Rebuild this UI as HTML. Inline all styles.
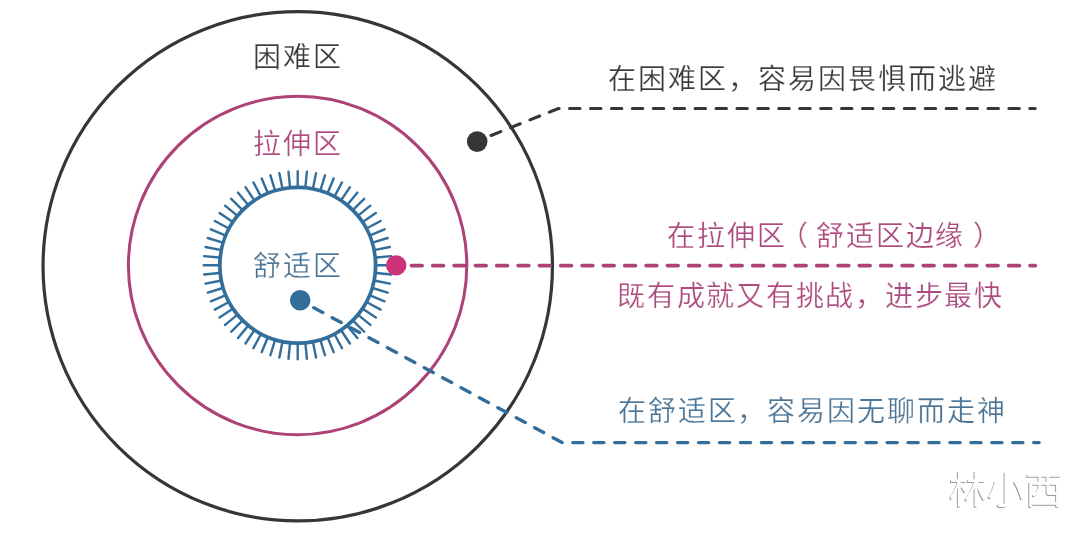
<!DOCTYPE html>
<html lang="zh-CN">
<head>
<meta charset="utf-8">
<style>
html,body{margin:0;padding:0;background:#fff;}
#c{position:absolute;left:0;top:0;width:1080px;height:534px;filter:blur(0.4px);}
body{width:1080px;height:534px;position:relative;overflow:hidden;font-family:"Liberation Sans",sans-serif;}
svg{position:absolute;left:0;top:0;}
.t i,.wm i{display:inline-block;font-style:normal;}
.t b{position:relative;font-weight:normal;}
.t{position:absolute;white-space:nowrap;font-size:28px;line-height:28px;-webkit-text-stroke:0.25px #fff;}
.dk{color:#3a3a3a;}
.pk{color:#ad4a7e;}
.bl{color:#4a7596;}
.wm{position:absolute;white-space:nowrap;font-size:38px;line-height:38px;color:#fff;text-shadow:-1px 1px 0 #9c9c9c;}
</style>
</head>
<body>
<div id="c">
<svg width="1080" height="534" viewBox="0 0 1080 534">
  <circle cx="297.75" cy="266.25" r="254.7" fill="none" stroke="#363636" stroke-width="3.2"/>
  <circle cx="297.6" cy="265.5" r="169.2" fill="none" stroke="#ad4276" stroke-width="3"/>
  <circle cx="297.7" cy="265.3" r="77.9" fill="none" stroke="#336e9b" stroke-width="3.8"/>
  <path d="M297.70 186.30L297.70 171.30M305.44 186.68L306.91 171.75M313.11 187.82L316.04 173.11M320.63 189.70L324.99 175.35M327.93 192.31L333.67 178.46M334.94 195.63L342.01 182.40M341.59 199.61L349.92 187.14M347.82 204.23L357.33 192.64M353.56 209.44L364.17 198.83M358.77 215.18L370.36 205.67M363.39 221.41L375.86 213.08M367.37 228.06L380.60 220.99M370.69 235.07L384.54 229.33M373.30 242.37L387.65 238.01M375.18 249.89L389.89 246.96M376.32 257.56L391.25 256.09M376.70 265.30L391.70 265.30M376.32 273.04L391.25 274.51M375.18 280.71L389.89 283.64M373.30 288.23L387.65 292.59M370.69 295.53L384.54 301.27M367.37 302.54L380.60 309.61M363.39 309.19L375.86 317.52M358.77 315.42L370.36 324.93M353.56 321.16L364.17 331.77M347.82 326.37L357.33 337.96M341.59 330.99L349.92 343.46M334.94 334.97L342.01 348.20M327.93 338.29L333.67 352.14M320.63 340.90L324.99 355.25M313.11 342.78L316.04 357.49M305.44 343.92L306.91 358.85M297.70 344.30L297.70 359.30M289.96 343.92L288.49 358.85M282.29 342.78L279.36 357.49M274.77 340.90L270.41 355.25M267.47 338.29L261.73 352.14M260.46 334.97L253.39 348.20M253.81 330.99L245.48 343.46M247.58 326.37L238.07 337.96M241.84 321.16L231.23 331.77M236.63 315.42L225.04 324.93M232.01 309.19L219.54 317.52M228.03 302.54L214.80 309.61M224.71 295.53L210.86 301.27M222.10 288.23L207.75 292.59M220.22 280.71L205.51 283.64M219.08 273.04L204.15 274.51M218.70 265.30L203.70 265.30M219.08 257.56L204.15 256.09M220.22 249.89L205.51 246.96M222.10 242.37L207.75 238.01M224.71 235.07L210.86 229.33M228.03 228.06L214.80 220.99M232.01 221.41L219.54 213.08M236.63 215.18L225.04 205.67M241.84 209.44L231.23 198.83M247.58 204.23L238.07 192.64M253.81 199.61L245.48 187.14M260.46 195.63L253.39 182.40M267.47 192.31L261.73 178.46M274.77 189.70L270.41 175.35M282.29 187.82L279.36 173.11M289.96 186.68L288.49 171.75" stroke="#336e9b" stroke-width="2.4" stroke-linecap="round" fill="none"/>
  <path d="M477.2 141.0L558.5 108.5L1035.2 108.5" fill="none" stroke="#363636" stroke-width="3.1" stroke-linecap="round" stroke-linejoin="round" stroke-dasharray="10.4 10.52" stroke-dashoffset="-14.98"/>
  <path d="M411.5 265.6L1035.3 265.6" fill="none" stroke="#ad4276" stroke-width="3.8" stroke-linecap="round" stroke-dasharray="10.6 10.73"/>
  <path d="M300.2 300.3L562.2 442.6L1039.1 442.6" fill="none" stroke="#336e9b" stroke-width="3.4" stroke-linecap="round" stroke-linejoin="round" stroke-dasharray="10.2 10.75" stroke-dashoffset="-15.45"/>
  <circle cx="477.2" cy="141.6" r="10.3" fill="#363636"/>
  <circle cx="396.2" cy="265.4" r="10.2" fill="#cc3278"/>
  <circle cx="300.2" cy="300.2" r="10.3" fill="#336e9b"/>
</svg>
<div class="t dk" style="left:252.5px;top:44.2px"><i style="width:30.0px">困</i><i style="width:30.0px">难</i><i style="width:30.0px">区</i></div>
<div class="t pk" style="left:252.7px;top:130.5px"><i style="width:30.0px">拉</i><i style="width:30.0px">伸</i><i style="width:30.0px">区</i></div>
<div class="t bl" style="left:252.7px;top:252.8px"><i style="width:30.0px">舒</i><i style="width:30.0px">适</i><i style="width:30.0px">区</i></div>
<div class="t dk" style="left:608.3px;top:65.5px"><i style="width:29.95px">在</i><i style="width:29.95px">困</i><i style="width:29.95px">难</i><i style="width:29.95px">区</i><i style="width:29.95px">，</i><i style="width:29.95px">容</i><i style="width:29.95px">易</i><i style="width:29.95px">因</i><i style="width:29.95px">畏</i><i style="width:29.95px">惧</i><i style="width:29.95px">而</i><i style="width:29.95px">逃</i><i style="width:29.95px">避</i></div>
<div class="t pk" style="left:667.3px;top:222.8px"><i style="width:29.8px">在</i><i style="width:29.8px">拉</i><i style="width:29.8px">伸</i><i style="width:29.8px">区</i><i style="width:29.8px"><b style="left:-6px">（</b></i><i style="width:29.8px">舒</i><i style="width:29.8px">适</i><i style="width:29.8px">区</i><i style="width:29.8px">边</i><i style="width:29.8px">缘</i><i style="width:29.8px"><b style="left:7.5px">）</b></i></div>
<div class="t pk" style="left:617px;top:282.9px"><i style="width:29.75px">既</i><i style="width:29.75px">有</i><i style="width:29.75px">成</i><i style="width:29.75px">就</i><i style="width:29.75px">又</i><i style="width:29.75px">有</i><i style="width:29.75px">挑</i><i style="width:29.75px">战</i><i style="width:29.75px">，</i><i style="width:29.75px">进</i><i style="width:29.75px">步</i><i style="width:29.75px">最</i><i style="width:29.75px">快</i></div>
<div class="t bl" style="left:617.7px;top:397.9px"><i style="width:29.95px">在</i><i style="width:29.95px">舒</i><i style="width:29.95px">适</i><i style="width:29.95px">区</i><i style="width:29.95px">，</i><i style="width:29.95px">容</i><i style="width:29.95px">易</i><i style="width:29.95px">因</i><i style="width:29.95px">无</i><i style="width:29.95px">聊</i><i style="width:29.95px">而</i><i style="width:29.95px">走</i><i style="width:29.95px">神</i></div>
<div class="wm" style="left:948.7px;top:471.2px"><i style="width:38px">林</i><i style="width:38px">小</i><i style="width:38px">西</i></div>
</div>
</body>
</html>
